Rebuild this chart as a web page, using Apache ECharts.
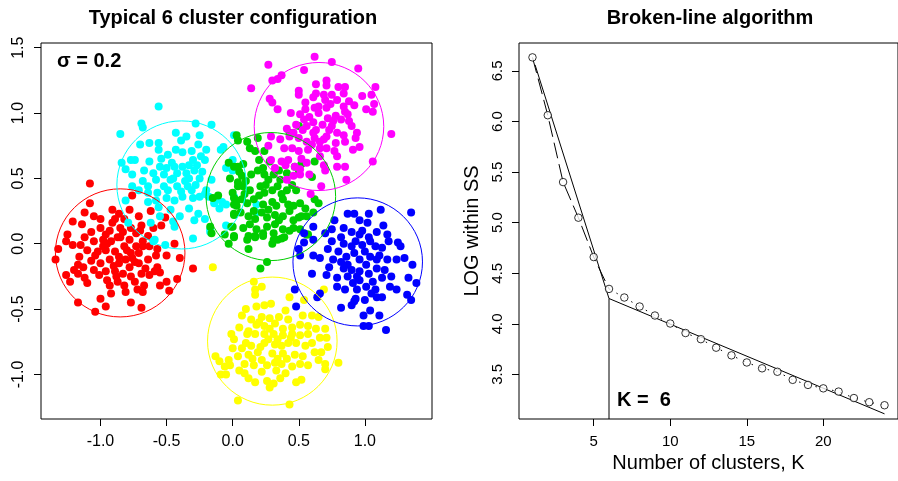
<!DOCTYPE html>
<html><head><meta charset="utf-8">
<script src="https://cdn.jsdelivr.net/npm/echarts@6/dist/echarts.min.js"></script>
<style>html,body{margin:0;padding:0;background:#fff}#c{width:898px;height:481px}</style>
</head><body><div id="c"></div>
<script>
const FONT = '"Liberation Sans", Arial, Helvetica, sans-serif';

// ---------- left panel data ----------
const redPts = [[-1.08,0.46],[-1.08,0.31],[-1.12,0.24],[-1.05,0.21],[-1.21,0.17],[-1.14,0.15],[-0.91,0.26],[-0.78,0.26],[-0.76,0.37],[-0.89,0.19],[-0.82,0.19],[-0.71,0.21],[-0.62,0.25],[-0.51,0.20],[-0.54,0.14],[-0.69,0.14],[-0.77,0.12],[-0.85,0.12],[-0.93,0.10],[-1.00,0.12],[-1.07,0.09],[-1.12,0.05],[-1.25,0.07],[-1.26,0.02],[-1.21,-0.01],[-1.32,-0.04],[-1.34,-0.12],[-1.15,-0.01],[-1.05,0.02],[-0.98,0.03],[-0.92,0.02],[-0.85,0.05],[-0.78,0.03],[-0.73,0.08],[-0.68,0.02],[-0.63,-0.02],[-0.57,-0.04],[-0.50,-0.09],[-0.40,-0.11],[-0.44,0.00],[-0.30,-0.19],[-1.10,-0.05],[-1.02,-0.06],[-0.96,-0.05],[-0.89,-0.06],[-0.82,-0.02],[-0.77,-0.07],[-0.71,-0.07],[-1.16,-0.10],[-1.17,-0.16],[-1.07,-0.13],[-1.00,-0.15],[-0.93,-0.12],[-0.86,-0.15],[-0.78,-0.18],[-0.71,-0.15],[-0.64,-0.12],[-0.57,-0.18],[-0.55,-0.22],[-1.26,-0.24],[-1.23,-0.29],[-1.17,-0.23],[-1.12,-0.26],[-1.10,-0.30],[-1.01,-0.24],[-0.96,-0.21],[-0.89,-0.21],[-0.83,-0.23],[-0.77,-0.25],[-0.69,-0.23],[-0.63,-0.24],[-0.93,-0.32],[-0.87,-0.29],[-0.82,-0.32],[-0.74,-0.29],[-0.67,-0.32],[-0.55,-0.32],[-0.50,-0.29],[-0.42,-0.27],[-0.48,-0.36],[-0.81,-0.37],[-0.68,-0.37],[-1.00,-0.42],[-0.96,-0.48],[-1.17,-0.45],[-1.04,-0.52],[-0.77,-0.45],[-0.69,-0.49],[-0.98,-0.02],[-0.86,-0.10],[-0.76,-0.11],[-0.68,-0.02],[-0.96,0.07],[-1.05,-0.20],[-0.91,0.16],[-0.59,-0.21],[-0.87,0.05],[-0.80,-0.05],[-0.74,-0.14],[-0.90,-0.17],[-1.04,-0.09],[-0.70,0.10],[-0.95,-0.28],[-0.64,0.06],[-0.58,-0.09],[-1.20,-0.20],[-0.86,0.23],[-0.72,-0.35],[-0.83,0.09],[-0.95,0.00],[-0.73,-0.02],[-0.88,-0.25],[-1.13,-0.18],[-0.66,-0.19],[-0.81,-0.12],[-1.00,0.19],[-0.60,0.12],[-0.92,-0.38]];

const cyanPts = [[-0.56,1.05],[-0.69,0.92],[-0.68,0.89],[-0.85,0.84],[-0.28,0.92],[-0.16,0.91],[-0.43,0.85],[-0.35,0.82],[-0.25,0.83],[-0.39,0.79],[-0.70,0.76],[-0.63,0.77],[-0.56,0.77],[-0.56,0.72],[-0.49,0.68],[-0.43,0.72],[-0.38,0.70],[-0.31,0.71],[-0.26,0.76],[-0.20,0.72],[-0.09,0.72],[-0.07,0.74],[-0.21,0.64],[-0.30,0.64],[-0.38,0.59],[-0.44,0.59],[-0.54,0.65],[-0.55,0.59],[-0.63,0.63],[-0.77,0.64],[-0.74,0.64],[-0.84,0.62],[-0.81,0.57],[-0.76,0.53],[-0.67,0.56],[-0.60,0.54],[-0.68,0.48],[-0.76,0.44],[-0.71,0.41],[-0.64,0.44],[-0.58,0.49],[-0.52,0.53],[-0.47,0.49],[-0.42,0.54],[-0.35,0.54],[-0.29,0.56],[-0.23,0.55],[-0.16,0.49],[-0.20,0.41],[-0.28,0.45],[-0.34,0.44],[-0.42,0.44],[-0.49,0.41],[-0.57,0.39],[-0.64,0.39],[-0.64,0.32],[-0.81,0.33],[-0.58,0.33],[-0.50,0.35],[-0.44,0.33],[-0.38,0.36],[-0.30,0.35],[-0.25,0.36],[-0.18,0.36],[-0.14,0.31],[-0.08,0.32],[-0.10,0.27],[-0.05,0.30],[0.01,0.36],[-0.33,0.27],[-0.26,0.23],[-0.21,0.19],[-0.29,0.18],[-0.40,0.21],[-0.44,0.13],[-0.45,0.17],[-0.55,0.21],[-0.62,0.16],[-0.79,0.16],[-0.56,0.28],[-0.30,0.04],[-0.59,0.03],[-0.51,-0.01],[-0.05,0.14],[0.01,0.83],[0.18,0.30],[0.18,0.24],[-0.17,0.11],[-0.05,0.58],[0.00,0.64],[0.00,0.56],[-0.60,0.02],[-0.17,0.09],[-0.21,0.38],[-0.12,0.34],[-0.33,0.60],[-0.25,0.50],[-0.36,0.48],[-0.46,0.62],[-0.31,0.41],[-0.47,0.26],[-0.24,0.67],[-0.52,0.44],[-0.39,0.40],[-0.33,0.50],[-0.45,0.50],[-0.27,0.60],[-0.50,0.58]];

const greenPts = [[0.04,0.79],[0.11,0.78],[0.13,0.73],[0.17,0.71],[0.19,0.81],[0.24,0.71],[0.50,0.90],[0.43,0.85],[-0.03,0.62],[0.04,0.59],[0.08,0.61],[0.05,0.55],[0.07,0.52],[-0.02,0.50],[0.04,0.47],[0.08,0.44],[0.14,0.53],[0.19,0.56],[0.23,0.58],[0.24,0.53],[0.27,0.49],[0.31,0.53],[0.35,0.56],[0.41,0.54],[0.47,0.59],[0.50,0.54],[0.13,0.41],[0.21,0.44],[0.24,0.39],[0.30,0.41],[0.34,0.44],[0.37,0.38],[0.41,0.41],[0.45,0.45],[0.48,0.41],[0.01,0.35],[0.07,0.34],[0.03,0.29],[0.11,0.31],[0.16,0.34],[0.23,0.30],[0.30,0.32],[0.33,0.29],[0.38,0.34],[0.46,0.29],[0.51,0.31],[0.55,0.27],[0.62,0.34],[0.01,0.22],[0.06,0.24],[0.12,0.21],[0.17,0.19],[0.22,0.24],[0.26,0.20],[0.32,0.22],[0.38,0.21],[0.43,0.25],[0.46,0.18],[0.50,0.20],[-0.01,0.13],[0.08,0.12],[0.13,0.15],[0.18,0.11],[0.26,0.13],[0.32,0.15],[0.38,0.11],[0.46,0.12],[0.01,0.06],[0.12,0.06],[0.17,0.06],[0.23,0.06],[0.31,0.03],[0.37,0.04],[0.62,0.63],[0.52,0.61],[0.03,0.83],[0.01,0.59],[0.04,0.44],[0.00,0.39],[0.03,0.33],[0.01,0.30],[0.01,0.23],[-0.11,0.37],[-0.15,0.35],[0.00,0.13],[-0.06,0.07],[-0.17,0.13],[-0.16,0.08],[-0.03,0.00],[0.01,0.05],[0.11,0.03],[0.17,0.05],[0.12,-0.04],[0.23,0.08],[0.30,0.00],[0.34,0.03],[0.39,0.05],[0.26,-0.14],[0.21,-0.19],[0.57,0.07],[0.52,0.21],[0.43,0.10],[0.65,0.31],[0.61,0.24],[0.56,0.21],[0.51,0.11],[0.56,0.07],[0.60,0.51],[0.20,0.37],[0.27,0.26],[0.35,0.18],[0.10,0.48],[0.28,0.63],[0.42,0.30],[0.16,0.25],[0.25,0.45],[0.36,0.49],[0.09,0.38],[0.31,0.08],[0.20,0.64]];

const magentaPts = [[0.27,1.37],[0.62,1.43],[0.75,1.39],[0.95,1.34],[0.54,1.33],[0.37,1.29],[0.34,1.26],[0.30,1.25],[0.14,1.19],[0.63,1.22],[0.71,1.25],[0.71,1.21],[0.80,1.20],[0.85,1.20],[1.08,1.20],[0.50,1.17],[0.50,1.14],[0.63,1.15],[0.69,1.14],[0.75,1.14],[0.84,1.15],[0.98,1.13],[1.05,1.14],[0.28,1.11],[0.30,1.08],[0.34,1.03],[0.55,1.08],[0.61,1.12],[0.70,1.10],[0.74,1.07],[0.79,1.10],[0.88,1.09],[0.92,1.06],[1.07,1.07],[1.06,1.01],[1.01,1.03],[0.44,1.00],[0.51,0.99],[0.55,1.03],[0.62,1.04],[0.65,1.00],[0.71,1.04],[0.78,0.98],[0.85,1.01],[0.82,0.95],[0.88,0.94],[0.54,0.95],[0.61,0.93],[0.41,0.88],[0.46,0.85],[0.56,0.90],[0.63,0.87],[0.68,0.91],[0.75,0.90],[0.79,0.85],[0.84,0.83],[0.94,0.85],[1.20,0.84],[0.36,0.80],[0.43,0.82],[0.50,0.81],[0.56,0.78],[0.62,0.81],[0.69,0.80],[0.78,0.77],[0.85,0.78],[0.93,0.81],[0.96,0.74],[0.91,0.72],[0.29,0.82],[0.27,0.75],[0.39,0.73],[0.45,0.73],[0.50,0.71],[0.57,0.72],[0.66,0.73],[0.71,0.73],[0.77,0.71],[0.79,0.67],[0.66,0.67],[0.29,0.64],[0.37,0.63],[0.42,0.64],[0.32,0.58],[0.40,0.60],[0.47,0.59],[0.51,0.57],[0.56,0.62],[0.69,0.60],[0.70,0.56],[0.79,0.59],[0.85,0.59],[1.06,0.63],[0.41,0.49],[0.46,0.52],[0.51,0.53],[0.58,0.53],[0.86,0.49],[0.67,0.44],[0.59,0.38],[0.65,1.05],[0.84,1.05],[0.87,0.99],[0.53,0.87],[0.71,0.82],[0.61,0.85],[0.76,0.94],[0.72,0.96],[0.58,0.97],[0.66,0.78],[0.48,0.91],[0.73,0.87],[0.60,0.76],[0.90,0.90],[0.52,0.65]];

const yellowPts = [[-0.15,-0.18],[0.16,-0.29],[0.17,-0.35],[0.17,-0.39],[0.22,-0.33],[0.43,-0.41],[0.54,-0.43],[0.69,-0.35],[0.10,-0.50],[0.18,-0.48],[0.24,-0.47],[0.29,-0.46],[0.40,-0.51],[0.07,-0.55],[0.14,-0.58],[0.22,-0.56],[0.28,-0.57],[0.35,-0.56],[0.42,-0.58],[0.53,-0.55],[0.60,-0.55],[0.65,-0.56],[0.05,-0.64],[0.12,-0.67],[0.18,-0.62],[0.24,-0.63],[0.32,-0.61],[0.38,-0.65],[0.45,-0.64],[0.51,-0.62],[0.57,-0.63],[0.63,-0.65],[0.70,-0.65],[-0.01,-0.69],[0.01,-0.73],[0.11,-0.69],[0.17,-0.69],[0.24,-0.69],[0.31,-0.69],[0.38,-0.70],[0.45,-0.69],[0.51,-0.70],[0.57,-0.69],[0.66,-0.72],[0.71,-0.72],[0.00,-0.80],[0.07,-0.80],[0.10,-0.76],[0.14,-0.78],[0.21,-0.79],[0.24,-0.76],[0.32,-0.77],[0.37,-0.78],[0.42,-0.76],[0.48,-0.76],[0.55,-0.78],[0.60,-0.76],[0.72,-0.79],[0.62,-0.83],[0.67,-0.83],[0.04,-0.86],[0.12,-0.85],[0.19,-0.83],[0.30,-0.84],[0.38,-0.84],[0.47,-0.85],[0.53,-0.86],[-0.13,-0.86],[-0.10,-0.90],[-0.03,-0.89],[-0.06,-0.94],[-0.02,-0.93],[0.09,-0.92],[0.16,-0.93],[0.22,-0.89],[0.26,-0.93],[0.32,-0.91],[0.37,-0.92],[0.45,-0.94],[0.51,-0.92],[0.57,-0.93],[0.65,-0.89],[0.70,-0.92],[0.70,-0.96],[0.80,-0.91],[-0.09,-1.00],[-0.05,-1.00],[0.05,-0.97],[0.09,-0.99],[0.12,-1.03],[0.17,-1.06],[0.22,-0.98],[0.26,-1.05],[0.31,-1.07],[0.28,-1.10],[0.36,-1.03],[0.40,-0.99],[0.33,-0.97],[0.48,-1.06],[0.52,-1.04],[0.04,-1.20],[0.43,-1.23],[0.27,-0.73],[0.34,-0.88],[0.20,-0.60],[0.44,-0.72],[0.28,-0.65],[0.41,-0.88],[0.15,-0.88],[0.34,-0.73]];

const bluePts = [[0.87,0.23],[0.92,0.23],[1.03,0.23],[1.12,0.26],[1.35,0.24],[0.96,0.18],[1.02,0.16],[0.77,0.18],[0.75,0.11],[0.70,0.08],[0.61,0.13],[0.54,0.08],[0.54,0.01],[0.61,0.03],[0.50,-0.04],[0.51,-0.09],[0.61,-0.09],[0.66,-0.11],[0.82,0.05],[0.90,0.09],[0.96,0.07],[1.03,0.05],[1.09,0.09],[1.17,0.07],[1.18,0.02],[1.25,0.01],[1.27,-0.02],[0.75,0.02],[0.84,0.00],[0.90,-0.02],[0.98,-0.01],[1.04,0.02],[1.08,-0.02],[0.72,-0.04],[0.80,-0.06],[0.76,-0.12],[0.86,-0.10],[0.92,-0.07],[0.96,-0.12],[1.04,-0.10],[1.11,-0.09],[1.17,-0.12],[1.24,-0.12],[1.30,-0.11],[1.36,-0.16],[0.60,-0.23],[0.71,-0.24],[0.84,-0.19],[0.90,-0.20],[0.87,-0.25],[0.96,-0.21],[1.03,-0.23],[1.09,-0.19],[1.15,-0.20],[1.13,-0.26],[1.06,-0.29],[0.96,-0.28],[1.33,-0.26],[1.39,-0.30],[0.79,-0.33],[0.85,-0.35],[0.94,-0.35],[1.01,-0.33],[1.08,-0.35],[1.19,-0.33],[1.24,-0.35],[0.47,-0.35],[0.66,-0.38],[0.64,-0.41],[0.93,-0.42],[1.00,-0.43],[1.09,-0.41],[1.13,-0.41],[1.32,-0.39],[1.35,-0.43],[0.48,-0.48],[0.82,-0.49],[0.90,-0.47],[0.92,-0.44],[1.04,-0.51],[0.99,-0.55],[1.11,-0.55],[0.99,-0.63],[1.03,-0.63],[1.16,-0.66],[0.87,-0.16],[1.01,-0.16],[1.09,-0.12],[0.94,-0.25],[1.00,-0.06],[0.79,-0.26],[0.93,0.02],[1.13,-0.03],[0.82,-0.14],[1.20,-0.25],[0.98,0.10],[0.91,-0.30],[1.05,-0.38],[0.84,0.12],[1.14,0.14],[0.73,-0.18]];

const clusterPoints = [redPts, cyanPts, greenPts, magentaPts, yellowPts, bluePts];
// circle centres and radii (data units)
const circleCenters = [[-0.851,-0.07],[-0.386,0.45],[0.289,0.361],[0.653,0.897],[0.30,-0.745],[0.946,-0.139]];
const circleRadii = [0.49,0.49,0.49,0.49,0.49,0.49];
const leftXTicks = [-1.0,-0.5,0.0,0.5,1.0];
const leftYTicks = [-1.0,-0.5,0.0,0.5,1.0,1.5];

// ---------- right panel data ----------
const kValues = [1,2,3,4,5,6,7,8,9,10,11,12,13,14,15,16,17,18,19,20,21,22,23,24];
const logWithinSS = [6.634,6.062,5.401,5.049,4.660,4.345,4.260,4.171,4.082,4.003,3.909,3.848,3.764,3.688,3.618,3.560,3.526,3.446,3.396,3.362,3.330,3.266,3.225,3.195];
const brokenLine = [[1.17,6.56],[6,4.25],[24,3.11]];
const kChosen = 6;
const kBreakY = 4.25;
const rightXTicks = [5,10,15,20];
const rightYTicks = [3.5,4.0,4.5,5.0,5.5,6.0,6.5];

// ---------- styling ----------
const clusterColors = ['#FF0000','#00FFFF','#00CD00','#FF00FF','#FFFF00','#0000FF'];
const LEFT_X = [-1.45, 1.508], LEFT_Y = [-1.341, 1.536];
const RIGHT_X = [0.12, 24.88], RIGHT_Y = [3.059, 6.776];

const chart = echarts.init(document.getElementById('c'));
const tickStyle = {show:true, inside:false, length:7, lineStyle:{color:'#000', width:1}};
const lblBase = {color:'#000', fontFamily:FONT};
const noLine = {show:false, onZero:false};

const series = [];
clusterPoints.forEach((pts, i) => {
  series.push({type:'scatter', xAxisIndex:0, yAxisIndex:0, data:pts, symbol:'circle', symbolSize:8,
    itemStyle:{color:clusterColors[i], opacity:1}, z:2, silent:true});
});
series.push({
  type:'custom', xAxisIndex:0, yAxisIndex:0, z:3, silent:true, clip:false,
  data: circleCenters.map((c,i)=>[c[0],c[1],circleRadii[i],i]),
  encode:{x:0,y:1},
  renderItem:function(params, api){
    const c = api.coord([api.value(0), api.value(1)]);
    const s = api.size([api.value(2), api.value(2)]);
    return {type:'ellipse', shape:{cx:c[0], cy:c[1], rx:s[0], ry:s[1]},
      style:{fill:'none', stroke:clusterColors[api.value(3)], lineWidth:1}};
  }
});
const pairs = kValues.map((k,i)=>[k, logWithinSS[i]]);
series.push({type:'line', xAxisIndex:1, yAxisIndex:1, data:brokenLine, showSymbol:false, symbol:'none',
  lineStyle:{color:'#000', width:1}, z:2, silent:true});
series.push({type:'line', xAxisIndex:1, yAxisIndex:1, data:[[kChosen,kBreakY],[kChosen,RIGHT_Y[0]]], showSymbol:false, symbol:'none',
  lineStyle:{color:'#000', width:1}, z:2, silent:true});
series.push({type:'line', xAxisIndex:1, yAxisIndex:1, data:pairs.slice(0,6), showSymbol:false, symbol:'none',
  lineStyle:{color:'#000', width:1, type:[16,6]}, z:2, silent:true});
series.push({type:'line', xAxisIndex:1, yAxisIndex:1, data:pairs.slice(5), showSymbol:false, symbol:'none',
  lineStyle:{color:'#000', width:1, type:[1.5,7]}, z:2, silent:true});
series.push({type:'scatter', xAxisIndex:1, yAxisIndex:1, data:pairs, symbol:'circle', symbolSize:7.5,
  itemStyle:{color:'#fff', borderColor:'#000', borderWidth:1}, z:4, silent:true});

chart.setOption({
  animation:false,
  backgroundColor:'#fff',
  grid:[
    {left:41, top:43, width:391, height:376, show:true, borderColor:'#000', borderWidth:1, backgroundColor:'transparent'},
    {left:519, top:43, width:389, height:376, show:true, borderColor:'#000', borderWidth:1, backgroundColor:'transparent'}
  ],
  xAxis:[
    {type:'value', gridIndex:0, min:LEFT_X[0], max:LEFT_X[1], axisLine:noLine, splitLine:{show:false},
      axisTick:Object.assign({customValues:leftXTicks}, tickStyle),
      axisLabel:Object.assign({customValues:leftXTicks, fontSize:16, margin:15, formatter:v=>v.toFixed(1)}, lblBase)},
    {type:'value', gridIndex:1, min:RIGHT_X[0], max:RIGHT_X[1], axisLine:noLine, splitLine:{show:false},
      axisTick:Object.assign({customValues:rightXTicks}, tickStyle),
      axisLabel:Object.assign({customValues:rightXTicks, fontSize:15, margin:15, formatter:v=>String(v)}, lblBase),
      name:'Number of clusters, K', nameLocation:'middle', nameGap:31,
      nameTextStyle:{fontSize:20, color:'#000', fontFamily:FONT}}
  ],
  yAxis:[
    {type:'value', gridIndex:0, min:LEFT_Y[0], max:LEFT_Y[1], axisLine:noLine, splitLine:{show:false},
      axisTick:Object.assign({customValues:leftYTicks}, tickStyle),
      axisLabel:Object.assign({customValues:leftYTicks, fontSize:16, margin:14, rotate:90, formatter:v=>v.toFixed(1)}, lblBase)},
    {type:'value', gridIndex:1, min:RIGHT_Y[0], max:RIGHT_Y[1], axisLine:noLine, splitLine:{show:false},
      axisTick:Object.assign({customValues:rightYTicks}, tickStyle),
      axisLabel:Object.assign({customValues:rightYTicks, fontSize:15, margin:14, rotate:90, formatter:v=>v.toFixed(1)}, lblBase),
      name:'LOG within SS', nameLocation:'middle', nameGap:37,
      nameTextStyle:{fontSize:20, color:'#000', fontFamily:FONT}}
  ],
  graphic:[
    {type:'text', x:233, y:18, style:{text:'Typical 6 cluster configuration', align:'center', verticalAlign:'middle', fontSize:20, fontWeight:'bold', fontFamily:FONT, fill:'#000'}},
    {type:'text', x:710, y:18, style:{text:'Broken-line algorithm', align:'center', verticalAlign:'middle', fontSize:20, fontWeight:'bold', fontFamily:FONT, fill:'#000'}},
    {type:'text', x:57, y:61, z:10, style:{text:'σ = 0.2', align:'left', verticalAlign:'middle', fontSize:20, fontWeight:'bold', fontFamily:FONT, fill:'#000'}},
    {type:'text', x:617, y:400, z:10, style:{text:'K =  6', align:'left', verticalAlign:'middle', fontSize:20, fontWeight:'bold', fontFamily:FONT, fill:'#000'}}
  ],
  series:series
});
</script></body></html>
